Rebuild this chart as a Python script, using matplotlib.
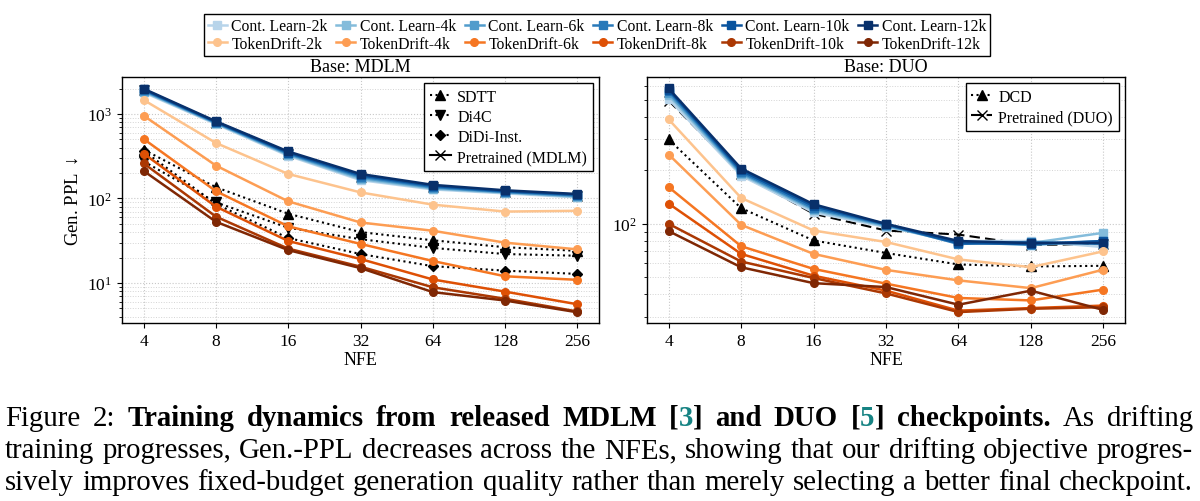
import numpy as np
import matplotlib
matplotlib.use('Agg')
import matplotlib.pyplot as plt
from matplotlib.ticker import FixedLocator, FixedFormatter, NullFormatter, LogLocator

nfe = [4, 8, 16, 32, 64, 128, 256]
steps = ['2k', '4k', '6k', '8k', '10k', '12k']

# ---- Base: MDLM ----
mdlm_cl = [
    [1800, 760, 320, 165, 128, 115, 103],
    [1840, 775, 328, 170, 131, 117, 105],
    [1880, 785, 335, 176, 134, 119, 107],
    [1910, 795, 342, 182, 137, 120, 109],
    [1950, 805, 350, 188, 141, 122, 111],
    [1990, 820, 360, 195, 145, 125, 113],
]
mdlm_td = [
    [1465, 454, 195, 118, 84.5, 70, 71.5],
    [955, 245, 92.5, 52, 41.5, 30, 25],
    [506, 122, 46.8, 29, 18.2, 12, 10.9],
    [340, 80, 31.4, 19.2, 11, 7.9, 5.6],
    [260, 61, 25.5, 15.6, 8.9, 6.5, 4.6],
    [212, 53, 24.5, 15, 7.8, 6.2, 4.5],
]
mdlm_pre = [1900, 790, 340, 178, 136, 119, 108]
sdtt = [378, 136, 66, 40, 32, 26.5, 24]
di4c = [275, 90, 45, 33, 26, 22, 21]
didi = [365, 86, 34, 22, 15.8, 14, 12.8]

# ---- Base: DUO ----
duo_cl = [
    [505, 187, 116, 96, 80, 80, 74],
    [530, 190, 119, 97, 78, 78, 89],
    [545, 193, 121, 98, 79, 76, 80],
    [560, 196, 123, 99, 77, 79, 77],
    [570, 200, 126, 99.5, 78, 77, 80],
    [580, 205, 129, 100, 80, 78, 78],
]
duo_td = [
    [388, 140, 91.7, 79, 63, 57, 70],
    [246, 98.7, 67.7, 55, 48, 43.4, 55.2],
    [161, 74.8, 55.7, 46, 38.2, 37, 42.6],
    [130, 67.7, 51, 42, 32.4, 33.5, 34.6],
    [100, 61.3, 49.5, 40.5, 31.8, 33.2, 33.9],
    [91, 56.9, 46.3, 44, 35, 42, 32.7],
]
duo_pre = [495, 192, 114, 91.7, 87, 76, 77]
dcd = [299, 122.6, 80.6, 68.5, 59, 57.5, 58]

caption = [
    [("Figure", 'normal', 'k'), ("2:", 'normal', 'k'),
     ("Training", 'bold', 'k'), ("dynamics", 'bold', 'k'), ("from", 'bold', 'k'),
     ("released", 'bold', 'k'), ("MDLM", 'bold', 'k'),
     [("[", 'bold', 'k'), ("3", 'bold', 'teal'), ("]", 'bold', 'k')],
     ("and", 'bold', 'k'), ("DUO", 'bold', 'k'),
     [("[", 'bold', 'k'), ("5", 'bold', 'teal'), ("]", 'bold', 'k')],
     ("checkpoints.", 'bold', 'k'), ("As", 'normal', 'k'), ("drifting", 'normal', 'k')],
    "training progresses, Gen.-PPL decreases across the NFEs, showing that our drifting objective progres-",
    "sively improves fixed-budget generation quality rather than merely selecting a better final checkpoint.",
]

SERIF = ['Liberation Serif', 'DejaVu Serif']
plt.rcParams['font.family'] = SERIF
plt.rcParams['mathtext.fontset'] = 'custom'
plt.rcParams['mathtext.rm'] = 'Liberation Serif'
plt.rcParams['mathtext.it'] = 'Liberation Serif:italic'

blues = plt.cm.Blues(np.linspace(0.3, 1.0, 6))
oranges = plt.cm.Oranges(np.linspace(0.3, 1.0, 6))
TEAL = '#168383'

W, H = 1200, 502
fig = plt.figure(figsize=(W / 100, H / 100), dpi=100)
ax1 = fig.add_axes([122 / W, 1 - 324 / H, 477 / W, 246 / H])
ax2 = fig.add_axes([647 / W, 1 - 324 / H, 478 / W, 246 / H])


def style_axis(ax, ylim):
    ax.set_xscale('log', base=2)
    ax.set_yscale('log')
    ax.set_xlim(3.25, 315)
    ax.set_ylim(*ylim)
    ax.xaxis.set_major_locator(FixedLocator(nfe))
    ax.xaxis.set_major_formatter(FixedFormatter([str(v) for v in nfe]))
    ax.xaxis.set_minor_locator(FixedLocator([]))
    ax.yaxis.set_minor_locator(LogLocator(base=10, subs=np.arange(2, 10)))
    ax.yaxis.set_minor_formatter(NullFormatter())
    ax.tick_params(axis='both', which='major', labelsize=12.5, direction='out', length=3.5, width=0.8)
    ax.tick_params(axis='y', which='minor', direction='out', length=2, width=0.6)
    ax.set_axisbelow(True)
    ax.grid(True, which='major', linestyle=':', color='#c8c8c8', linewidth=0.8)
    ax.grid(True, which='minor', axis='y', linestyle=':', color='#d4d4d4', linewidth=0.7)
    for s in ax.spines.values():
        s.set_linewidth(1.0)
    ax.set_xlabel('NFE', fontsize=13, labelpad=2)


def draw_family(ax, cl, td):
    handles_cl, handles_td = [], []
    for i in range(6):
        h, = ax.plot(nfe, cl[i], '-s', color=blues[i], lw=1.8, ms=5.5,
                     label=f'Cont. Learn-{steps[i]}', zorder=4)
        handles_cl.append(h)
    for i in range(6):
        h, = ax.plot(nfe, td[i], '-o', color=oranges[i], lw=1.8, ms=5.5,
                     label=f'TokenDrift-{steps[i]}', zorder=5)
        handles_td.append(h)
    return handles_cl, handles_td


# left panel
b1, = ax1.plot(nfe, sdtt, ':^', color='k', lw=1.5, ms=6.5, label='SDTT', zorder=3)
b2, = ax1.plot(nfe, di4c, ':v', color='k', lw=1.5, ms=6.5, label='Di4C', zorder=3)
b3, = ax1.plot(nfe, didi, ':D', color='k', lw=1.5, ms=5, label='DiDi-Inst.', zorder=3)
b4, = ax1.plot(nfe, mdlm_pre, '-x', color='k', lw=1.5, ms=7, label='Pretrained (MDLM)', zorder=3)
hcl, htd = draw_family(ax1, mdlm_cl, mdlm_td)
style_axis(ax1, (3.36, 2740))
ax1.set_title('Base: MDLM', fontsize=13, pad=4)
ax1.set_ylabel('Gen. PPL $\\downarrow$', fontsize=13.5, labelpad=4)
ax1.legend(handles=[b1, b2, b3, b4], loc='upper right', fontsize=11.5, frameon=True,
           fancybox=False, edgecolor='k', framealpha=1, handlelength=1.3,
           handletextpad=0.4, labelspacing=0.25, borderpad=0.35,
           borderaxespad=0.4).get_frame().set_linewidth(1.0)

# right panel
d1, = ax2.plot(nfe, dcd, ':^', color='k', lw=1.5, ms=6.5, label='DCD', zorder=3)
d2, = ax2.plot(nfe, duo_pre, '--x', color='k', lw=1.5, ms=7, label='Pretrained (DUO)', zorder=3,
               dashes=(5, 2.5))
draw_family(ax2, duo_cl, duo_td)
style_axis(ax2, (27.6, 673))
ax2.set_title('Base: DUO', fontsize=13, pad=4)
ax2.legend(handles=[d1, d2], loc='upper right', fontsize=11.5, frameon=True,
           fancybox=False, edgecolor='k', framealpha=1, handlelength=1.3,
           handletextpad=0.4, labelspacing=0.25, borderpad=0.35,
           borderaxespad=0.4).get_frame().set_linewidth(1.0)

# top legend: Cont. Learn on row 1, TokenDrift on row 2
order = []
for a, b in zip(hcl, htd):
    order += [a, b]
leg = fig.legend(handles=order, loc='upper center', bbox_to_anchor=(597 / W, 1 - 7 / H),
                 ncol=6, fontsize=11.3, frameon=True, fancybox=False, edgecolor='k',
                 framealpha=1, handlelength=1.2, handletextpad=0.3, columnspacing=0.55,
                 labelspacing=0.1, borderpad=0.28)
leg.get_frame().set_linewidth(1.0)

# caption, justified between two edges
renderer = fig.canvas.get_renderer()
x_left, x_right = 5, 1193
baselines = [426, 458, 490]


def tokens_of(line):
    if isinstance(line, str):
        return [[(w, 'normal', 'k')] for w in line.split(' ')]
    return [t if isinstance(t, list) else [t] for t in line]


def piece_width(txt, weight, size):
    t = fig.text(0, 0, txt, fontsize=size, fontweight=weight, family='Liberation Serif')
    w = t.get_window_extent(renderer).width
    t.remove()
    return w


# pick the size at which the longest line fits with normal word spacing
probe = 19
space = piece_width('a a', 'normal', probe) - piece_width('aa', 'normal', probe)
natural = []
for line in caption:
    toks = tokens_of(line)
    natural.append(sum(piece_width(p[0], p[1], probe) for tok in toks for p in tok)
                   + space * (len(toks) - 1))
cap_size = probe * (x_right - x_left) / max(natural) * 0.995

for line, base in zip(caption, baselines):
    toks = tokens_of(line)
    widths = [[piece_width(p[0], p[1], cap_size) for p in tok] for tok in toks]
    total = sum(sum(w) for w in widths)
    gap = (x_right - x_left - total) / (len(toks) - 1)
    x = x_left
    for tok, ws in zip(toks, widths):
        for (txt, weight, col), w in zip(tok, ws):
            fig.text(x / W, 1 - base / H, txt, fontsize=cap_size, fontweight=weight,
                     family='Liberation Serif', color=TEAL if col == 'teal' else 'k',
                     va='baseline', ha='left')
            x += w
        x += gap

fig.savefig('out.png', dpi=100)
